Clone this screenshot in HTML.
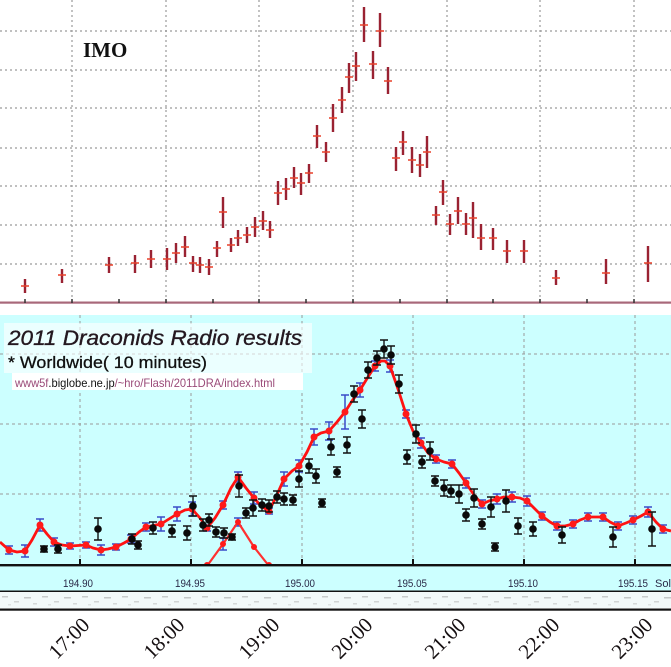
<!DOCTYPE html>
<html><head><meta charset="utf-8"><style>
html,body{margin:0;padding:0;background:#fff;}
svg{display:block;}
</style></head><body>
<svg width="671" height="667" viewBox="0 0 671 667" xmlns="http://www.w3.org/2000/svg">
<defs>
<pattern id="nz" width="40" height="16" patternUnits="userSpaceOnUse">
<rect width="40" height="16" fill="#f2f9f9"/>
<rect x="2" y="4" width="6" height="1.5" fill="#c8cccc"/>
<rect x="14" y="9" width="5" height="1.5" fill="#d0d4d4"/>
<rect x="24" y="5" width="7" height="1.5" fill="#c4c8c8"/>
<rect x="33" y="11" width="4" height="1.5" fill="#d4d8d8"/>
<rect x="8" y="12" width="3" height="1.5" fill="#dde2e2"/>
</pattern>
</defs>
<!-- TOP PANEL -->
<rect x="0" y="0" width="671" height="315" fill="#fff"/>
<g stroke="#9a9a9a" stroke-width="1.2" stroke-dasharray="2,3" fill="none">
<path d="M0 31H671M0 70H671M0 108H671M0 148H671M0 186H671M0 225H671M0 264H671"/>
<path d="M72 0V302M166 0V302M259 0V302M353 0V302M447 0V302M540 0V302M634 0V302"/>
</g>
<text x="83" y="57" font-family="Liberation Serif, serif" font-weight="bold" font-size="21" fill="#111">IMO</text>
<path d="M25 279V293M62 269V283M109 257V273M135 255V273M151 250V268M167 248V270M176 243V263M185 236V257M193 256V272M200 257V273M209 259V275M217 241V257M223 197V228M231 238V252M238 230V246M247 227V243M255 217V237M263 211V230M270 221V238M278 181V205M286 178V200M294 167V188M301 173V195M309 164V183M317 125V148M326 142V162M333 104V132M342 87V113M349 63V93M356 52V81M364 7V42M373 51V79M380 13V47M388 67V94M396 147V171M403 131V155M412 147V173M420 154V177M427 136V168M436 206V225M443 180V205M450 214V235M458 197V224M466 213V235M473 202V238M481 224V250M493 228V250M507 240V263M524 240V263M556 270V285M606 259V284M648 246V282" stroke="#9a2232" stroke-width="2.4" fill="none"/>
<path d="M21 286h8M58 275h8M105 265h8M131 263h8M147 259h8M163 259h8M172 253h8M181 247h8M189 263h8M196 265h8M205 267h8M213 248h8M219 212h8M227 245h8M234 238h8M243 235h8M251 227h8M259 221h8M266 230h8M274 193h8M282 189h8M290 178h8M297 183h8M305 173h8M313 136h8M322 152h8M329 118h8M338 100h8M345 77h8M352 66h8M360 25h8M369 64h8M376 31h8M384 81h8M392 158h8M399 142h8M408 160h8M416 165h8M423 152h8M432 215h8M439 192h8M446 224h8M454 211h8M462 224h8M469 218h8M477 238h8M489 238h8M503 251h8M520 251h8M552 278h8M602 273h8M644 263h8" stroke="#e8402a" stroke-width="1.6" fill="none"/>
<rect x="0" y="301.5" width="671" height="2.2" fill="#a8687a"/>
<path d="M25 299v4M72 299v4M119 299v4M166 299v4M213 299v4M259 299v4M306 299v4M353 299v4M400 299v4M447 299v4M493 299v4M540 299v4M587 299v4M634 299v4" stroke="#333" stroke-width="1.5"/>
<!-- BOTTOM PANEL -->
<rect x="0" y="315" width="671" height="276" fill="#ccffff"/>
<g stroke="#9a9a9a" stroke-width="1" stroke-dasharray="3,3" fill="none">
<path d="M0 354H671M0 424H671M0 494H671"/>
<path d="M80 315V565M191 315V565M302 315V565M413 315V565M524 315V565M635 315V565"/>
</g>
<!-- title box -->
<rect x="4" y="323" width="308" height="50" fill="#ffffff" fill-opacity="0.6"/>
<rect x="12" y="373" width="291" height="17" fill="#ffffff"/>
<text x="8" y="345" font-family="Liberation Sans, sans-serif" font-style="italic" font-size="21" fill="#241820" stroke="#241820" stroke-width="0.35" textLength="294" lengthAdjust="spacingAndGlyphs">2011 Draconids Radio results</text>
<text x="8" y="368" font-family="Liberation Sans, sans-serif" font-size="17" fill="#111" stroke="#111" stroke-width="0.3" textLength="199" lengthAdjust="spacingAndGlyphs">* Worldwide( 10 minutes)</text>
<text x="15" y="387" font-family="Liberation Sans, sans-serif" font-size="12" fill="#9a4a78" textLength="260" lengthAdjust="spacingAndGlyphs">www5f<tspan fill="#111">.biglobe.ne.jp</tspan>/~hro/Flash/2011DRA/index.html</text>
<!-- blue error bars -->
<path d="M9 546V554M5 546h8M5 554h8M25 545V557M21 545h8M21 557h8M40 519V531M36 519h8M36 531h8M54 538V546M50 538h8M50 546h8M70 543V549M66 543h8M66 549h8M86 542V548M82 542h8M82 548h8M101 545V555M97 545h8M97 555h8M116 544V550M112 544h8M112 550h8M131 535V543M127 535h8M127 543h8M146 523V531M142 523h8M142 531h8M161 517V531M157 517h8M157 531h8M177 507V521M173 507h8M173 521h8M192 502V516M188 502h8M188 516h8M207 525V531M203 525h8M203 531h8M223 501V509M219 501h8M219 509h8M238 472V482M234 472h8M234 482h8M254 492V504M250 492h8M250 504h8M269 508V514M265 508h8M265 514h8M284 472V486M280 472h8M280 486h8M299 460V472M295 460h8M295 472h8M314 429V445M310 429h8M310 445h8M329 422V440M325 422h8M325 440h8M345 395V429M341 395h8M341 429h8M360 383V397M356 383h8M356 397h8M375 361V371M371 361h8M371 371h8M390 360V372M386 360h8M386 372h8M406 410V418M402 410h8M402 418h8M421 438V448M417 438h8M417 448h8M436 455V463M432 455h8M432 463h8M452 460V468M448 460h8M448 468h8M466 478V488M462 478h8M462 488h8M482 500V508M478 500h8M478 508h8M497 494V504M493 494h8M493 504h8M512 492V502M508 492h8M508 502h8M527 496V506M523 496h8M523 506h8M542 512V520M538 512h8M538 520h8M557 522V530M553 522h8M553 530h8M573 520V528M569 520h8M569 528h8M588 513V521M584 513h8M584 521h8M603 513V521M599 513h8M599 521h8M618 522V530M614 522h8M614 530h8M633 516V524M629 516h8M629 524h8M648 507V517M644 507h8M644 517h8M663 525V533M659 525h8M659 533h8M223 538V550M219 538h8M219 550h8M238 518V526M234 518h8M234 526h8" stroke="#3a4cc8" stroke-width="1.5" fill="none"/>
<!-- red curves -->
<polyline points="0,542 9,550 17,552 25,551 32,540 40,525 47,534 54,542 62,545 70,546 86,545 93,548 101,550 108,549 116,547 124,543 131,539 139,532 146,527 161,524 169,519 177,514 185,510 192,509 200,518 207,528 215,518 223,505 231,488 238,477 246,488 254,498 261,506 269,511 276,497 284,479 292,471 299,466 307,452 314,437 321,433 329,431 337,422 345,412 352,401 360,390 368,377 375,366 381,361 385,361 390,366 398,389 406,414 413,431 421,443 428,453 436,459 444,462 452,464 459,473 466,483 474,495 482,504 489,501 497,499 504,497 512,497 520,498 527,501 535,509 542,516 550,522 557,526 565,526 573,524 580,520 588,517 603,517 610,522 618,526 626,523 633,520 641,516 648,512 656,522 663,529 671,531" fill="none" stroke="#ff1212" stroke-width="2.8" stroke-linejoin="round"/>
<polyline points="207,566 223,544 238,522 254,547 269,566" fill="none" stroke="#ff3030" stroke-width="2.2" stroke-linejoin="round"/>
<g fill="#ff1a1a">
<circle cx="9" cy="550" r="3.5"/><circle cx="25" cy="551" r="3.5"/><circle cx="40" cy="525" r="3.5"/><circle cx="54" cy="542" r="3.5"/><circle cx="70" cy="546" r="3.5"/><circle cx="86" cy="545" r="3.5"/><circle cx="101" cy="550" r="3.5"/><circle cx="116" cy="547" r="3.5"/><circle cx="131" cy="539" r="3.5"/><circle cx="146" cy="527" r="3.5"/><circle cx="161" cy="524" r="3.5"/><circle cx="177" cy="514" r="3.5"/><circle cx="192" cy="509" r="3.5"/><circle cx="207" cy="528" r="3.5"/><circle cx="223" cy="505" r="3.5"/><circle cx="238" cy="477" r="3.5"/><circle cx="254" cy="498" r="3.5"/><circle cx="269" cy="511" r="3.5"/><circle cx="284" cy="479" r="3.5"/><circle cx="299" cy="466" r="3.5"/><circle cx="314" cy="437" r="3.5"/><circle cx="329" cy="431" r="3.5"/><circle cx="345" cy="412" r="3.5"/><circle cx="360" cy="390" r="3.5"/><circle cx="375" cy="366" r="3.5"/><circle cx="390" cy="366" r="3.5"/><circle cx="406" cy="414" r="3.5"/><circle cx="421" cy="443" r="3.5"/><circle cx="436" cy="459" r="3.5"/><circle cx="452" cy="464" r="3.5"/><circle cx="466" cy="483" r="3.5"/><circle cx="482" cy="504" r="3.5"/><circle cx="497" cy="499" r="3.5"/><circle cx="512" cy="497" r="3.5"/><circle cx="527" cy="501" r="3.5"/><circle cx="542" cy="516" r="3.5"/><circle cx="557" cy="526" r="3.5"/><circle cx="573" cy="524" r="3.5"/><circle cx="588" cy="517" r="3.5"/><circle cx="603" cy="517" r="3.5"/><circle cx="618" cy="526" r="3.5"/><circle cx="633" cy="520" r="3.5"/><circle cx="648" cy="512" r="3.5"/><circle cx="663" cy="529" r="3.5"/>
<circle cx="207" cy="565" r="3"/><circle cx="223" cy="544" r="3"/><circle cx="238" cy="522" r="3"/><circle cx="254" cy="547" r="3"/><circle cx="269" cy="565" r="3"/>
</g>
<!-- black error bars -->
<path d="M44 546V552M40 546h8M40 552h8M58 545V553M54 545h8M54 553h8M98 518V540M94 518h8M94 540h8M132 534V544M128 534h8M128 544h8M138 541V549M134 541h8M134 549h8M153 522V534M149 522h8M149 534h8M172 525V537M168 525h8M168 537h8M187 526V540M183 526h8M183 540h8M193 496V516M189 496h8M189 516h8M203 519V531M199 519h8M199 531h8M209 514V526M205 514h8M205 526h8M216 527V537M212 527h8M212 537h8M224 528V538M220 528h8M220 538h8M232 534V540M228 534h8M228 540h8M239 475V497M235 475h8M235 497h8M246 508V518M242 508h8M242 518h8M253 500V516M249 500h8M249 516h8M262 499V511M258 499h8M258 511h8M269 500V512M265 500h8M265 512h8M277 491V503M273 491h8M273 503h8M284 493V505M280 493h8M280 505h8M293 495V505M289 495h8M289 505h8M299 471V487M295 471h8M295 487h8M309 459V473M305 459h8M305 473h8M316 469V483M312 469h8M312 483h8M322 499V507M318 499h8M318 507h8M331 439V455M327 439h8M327 455h8M337 467V477M333 467h8M333 477h8M347 437V453M343 437h8M343 453h8M354 386V402M350 386h8M350 402h8M362 410V428M358 410h8M358 428h8M368 362V378M364 362h8M364 378h8M377 351V365M373 351h8M373 365h8M384 340V358M380 340h8M380 358h8M391 346V364M387 346h8M387 364h8M399 375V393M395 375h8M395 393h8M407 450V464M403 450h8M403 464h8M416 425V443M412 425h8M412 443h8M422 456V468M418 456h8M418 468h8M430 442V460M426 442h8M426 460h8M435 476V486M431 476h8M431 486h8M444 480V496M440 480h8M440 496h8M451 485V497M447 485h8M447 497h8M459 485V503M455 485h8M455 503h8M466 509V521M462 509h8M462 521h8M474 489V507M470 489h8M470 507h8M482 519V529M478 519h8M478 529h8M491 497V517M487 497h8M487 517h8M495 543V551M491 543h8M491 551h8M506 490V512M502 490h8M502 512h8M518 518V534M514 518h8M514 534h8M533 522V536M529 522h8M529 536h8M562 527V543M558 527h8M558 543h8M613 527V547M609 527h8M609 547h8M652 512V546M648 512h8M648 546h8" stroke="#111" stroke-width="1.4" fill="none"/>
<g fill="#0a0a0a">
<circle cx="44" cy="549" r="3.8"/><circle cx="58" cy="549" r="3.8"/><circle cx="98" cy="529" r="3.8"/><circle cx="132" cy="539" r="3.8"/><circle cx="138" cy="545" r="3.8"/><circle cx="153" cy="528" r="3.8"/><circle cx="172" cy="531" r="3.8"/><circle cx="187" cy="533" r="3.8"/><circle cx="193" cy="506" r="3.8"/><circle cx="203" cy="525" r="3.8"/><circle cx="209" cy="520" r="3.8"/><circle cx="216" cy="532" r="3.8"/><circle cx="224" cy="533" r="3.8"/><circle cx="232" cy="537" r="3.8"/><circle cx="239" cy="486" r="3.8"/><circle cx="246" cy="513" r="3.8"/><circle cx="253" cy="508" r="3.8"/><circle cx="262" cy="505" r="3.8"/><circle cx="269" cy="506" r="3.8"/><circle cx="277" cy="497" r="3.8"/><circle cx="284" cy="499" r="3.8"/><circle cx="293" cy="500" r="3.8"/><circle cx="299" cy="479" r="3.8"/><circle cx="309" cy="466" r="3.8"/><circle cx="316" cy="476" r="3.8"/><circle cx="322" cy="503" r="3.8"/><circle cx="331" cy="447" r="3.8"/><circle cx="337" cy="472" r="3.8"/><circle cx="347" cy="445" r="3.8"/><circle cx="354" cy="394" r="3.8"/><circle cx="362" cy="419" r="3.8"/><circle cx="368" cy="370" r="3.8"/><circle cx="377" cy="358" r="3.8"/><circle cx="384" cy="349" r="3.8"/><circle cx="391" cy="355" r="3.8"/><circle cx="399" cy="384" r="3.8"/><circle cx="407" cy="457" r="3.8"/><circle cx="416" cy="434" r="3.8"/><circle cx="422" cy="462" r="3.8"/><circle cx="430" cy="451" r="3.8"/><circle cx="435" cy="481" r="3.8"/><circle cx="444" cy="488" r="3.8"/><circle cx="451" cy="491" r="3.8"/><circle cx="459" cy="494" r="3.8"/><circle cx="466" cy="515" r="3.8"/><circle cx="474" cy="498" r="3.8"/><circle cx="482" cy="524" r="3.8"/><circle cx="491" cy="507" r="3.8"/><circle cx="495" cy="547" r="3.8"/><circle cx="506" cy="501" r="3.8"/><circle cx="518" cy="526" r="3.8"/><circle cx="533" cy="529" r="3.8"/><circle cx="562" cy="535" r="3.8"/><circle cx="613" cy="537" r="3.8"/><circle cx="652" cy="529" r="3.8"/>
</g>
<!-- cover below axis -->
<rect x="0" y="566" width="671" height="25" fill="#ccffff"/>
<rect x="0" y="564" width="671" height="2.4" fill="#111"/>
<path d="M80 559v6M191 559v6M302 559v6M413 559v6M524 559v6M635 559v6" stroke="#111" stroke-width="2"/>
<g font-family="Liberation Sans, sans-serif" font-size="11" fill="#2a2a48" text-anchor="middle">
<text x="78" y="587" textLength="30" lengthAdjust="spacingAndGlyphs">194.90</text>
<text x="190" y="587" textLength="30" lengthAdjust="spacingAndGlyphs">194.95</text>
<text x="300" y="587" textLength="30" lengthAdjust="spacingAndGlyphs">195.00</text>
<text x="412" y="587" textLength="30" lengthAdjust="spacingAndGlyphs">195.05</text>
<text x="523" y="587" textLength="30" lengthAdjust="spacingAndGlyphs">195.10</text>
<text x="633" y="587" textLength="30" lengthAdjust="spacingAndGlyphs">195.15</text>
</g>
<text x="655" y="587" font-family="Liberation Sans, sans-serif" font-size="11" fill="#2a2a48">Solar</text>
<rect x="0" y="590.5" width="671" height="1.6" fill="#111"/>
<rect x="0" y="592" width="671" height="16" fill="url(#nz)"/>
<rect x="0" y="608.5" width="671" height="2.2" fill="#111"/>
<rect x="0" y="611" width="671" height="56" fill="#fff"/>
<g font-family="Liberation Serif, serif" font-size="21" fill="#161012">
<text transform="translate(57,660) rotate(-45)">17:00</text>
<text transform="translate(152,660) rotate(-45)">18:00</text>
<text transform="translate(247,660) rotate(-45)">19:00</text>
<text transform="translate(340,660) rotate(-45)">20:00</text>
<text transform="translate(433,660) rotate(-45)">21:00</text>
<text transform="translate(527,660) rotate(-45)">22:00</text>
<text transform="translate(620,660) rotate(-45)">23:00</text>
</g>
</svg>
</body></html>
